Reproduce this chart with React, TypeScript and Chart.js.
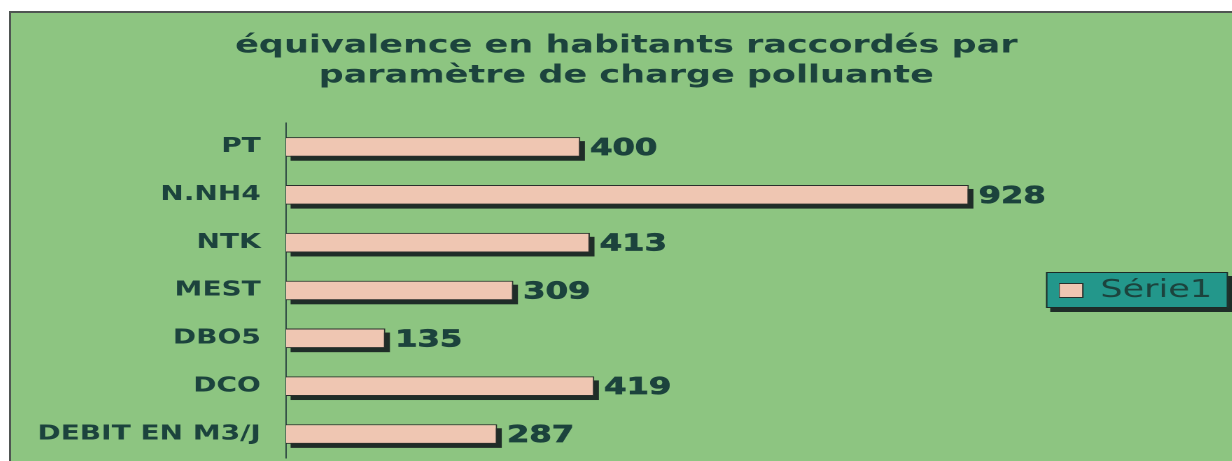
import React, { useEffect, useRef } from 'react';
import { Chart, registerables } from 'chart.js';

Chart.register(...registerables);

// ---- data ----
const categories: string[] = ['PT', 'N.NH4', 'NTK', 'MEST', 'DBO5', 'DCO', 'DEBIT EN M3/J'];
const serie1: number[] = [400, 928, 413, 309, 135, 419, 287];
const seriesLabel = 'Série1';
const titleLines: string[] = ['équivalence en habitants raccordés par', 'paramètre de charge polluante'];
const xMin = 0;
const xMax = 1000;

// ---- style ----
const FONT = '"DejaVu Sans", "Liberation Sans", sans-serif';
const TEXT = '#1c433d';
const GREEN = '#8dc581';
const BAR_FILL = '#efc6b2';
const BAR_EDGE = '#2a2f2c';
const SHADOW = '#1f2d28';
const LEGEND_BG = '#23978b';
const STRETCH = 1.4;
const CANVAS_W = 872;
const CANVAS_H = 448;

const legendPlacer = {
  id: 'legendPlacer',
  afterUpdate(chart: any) {
    const lg = chart.legend;
    if (!lg) return;
    const w = lg.width;
    const h = lg.height;
    lg.left = 748.6;
    lg.top = 265;
    lg.right = lg.left + w;
    lg.bottom = lg.top + h;
  },
  beforeDraw(chart: any) {
    const ctx = chart.ctx;
    const x = 739.3, y = 259, w = 130, h = 36;
    ctx.save();
    ctx.fillStyle = SHADOW;
    ctx.fillRect(x + 3, y + 4, w, h);
    ctx.fillStyle = LEGEND_BG;
    ctx.fillRect(x, y, w, h);
    ctx.strokeStyle = '#1d2a26';
    ctx.lineWidth = 1;
    ctx.strokeRect(x + 0.5, y + 0.5, w - 1, h - 1);
    ctx.restore();
  },
};

const barShadow = {
  id: 'barShadow',
  beforeDatasetsDraw(chart: any) {
    const ctx = chart.ctx;
    const meta = chart.getDatasetMeta(0);
    ctx.save();
    ctx.fillStyle = SHADOW;
    meta.data.forEach((el: any) => {
      const { x, y, base, height } = el.getProps(['x', 'y', 'base', 'height'], true);
      const left = Math.min(x, base);
      const w = Math.abs(x - base);
      ctx.fillRect(left + 3.3, y - height / 2 + 4, w, height);
    });
    ctx.restore();
  },
};

const valueLabels = {
  id: 'valueLabels',
  afterDraw(chart: any) {
    const ctx = chart.ctx;
    const meta = chart.getDatasetMeta(0);
    const values = chart.data.datasets[0].data as number[];
    ctx.save();
    ctx.font = `bold 23px ${FONT}`;
    ctx.fillStyle = TEXT;
    ctx.strokeStyle = TEXT;
    ctx.lineWidth = 0.7;
    ctx.textAlign = 'left';
    ctx.textBaseline = 'middle';
    meta.data.forEach((el: any, i: number) => {
      ctx.fillText(String(values[i]), el.x + 7, el.y + 2);
      ctx.strokeText(String(values[i]), el.x + 7, el.y + 2);
    });
    ctx.restore();
  },
};

export default function App() {
  const ref = useRef<HTMLCanvasElement | null>(null);

  useEffect(() => {
    if (!ref.current) return;
    const chart = new Chart(ref.current, {
      type: 'bar',
      data: {
        labels: categories,
        datasets: [
          {
            label: seriesLabel,
            data: serie1,
            backgroundColor: BAR_FILL,
            borderColor: BAR_EDGE,
            borderWidth: 1,
            barPercentage: 0.41,
            categoryPercentage: 1,
            clip: false as any,
          },
        ],
      },
      options: {
        indexAxis: 'y',
        animation: false,
        responsive: true,
        maintainAspectRatio: false,
        devicePixelRatio: 2,
        layout: { padding: { left: 7, right: 0, top: 0, bottom: 3 } },
        scales: {
          x: { display: false, min: xMin, max: xMax },
          y: {
            grid: { display: false, drawTicks: false },
            border: { display: true, color: '#2f4a44', width: 1 },
            ticks: { color: TEXT, padding: 18, font: { family: FONT, size: 20, weight: 'bold' } },
            afterFit(s: any) {
              s.width = 189.4;
              s.paddingTop = 0;
              s.paddingBottom = 0;
            },
          },
          y2: {
            type: 'category',
            position: 'right',
            grid: { display: false, drawTicks: false },
            border: { display: false },
            ticks: { display: false },
            afterFit(s: any) {
              s.width = 150;
              s.paddingTop = 0;
              s.paddingBottom = 0;
            },
          } as any,
        },
        plugins: {
          title: {
            display: true,
            text: titleLines,
            color: TEXT,
            font: { family: FONT, size: 25, weight: 'bold', lineHeight: 1.2 },
            padding: { top: 18, bottom: 32 },
          },
          legend: {
            display: true,
            position: 'chartArea' as any,
            align: 'start',
            labels: {
              boxWidth: 17,
              boxHeight: 14,
              padding: 0,
              color: TEXT,
              font: { family: FONT, size: 25 },
            },
          },
          tooltip: { enabled: false },
        },
      },
      plugins: [legendPlacer, barShadow, valueLabels],
    });
    return () => chart.destroy();
  }, []);

  return (
    <div style={{ position: 'fixed', left: 0, top: 0, width: 1232, height: 461, background: '#fff', overflow: 'hidden' }}>
      <div
        style={{
          position: 'absolute',
          left: 9,
          top: 11,
          width: 1240,
          height: 470,
          background: GREEN,
          borderTop: '2px solid #4f5552',
          borderLeft: '2px solid #4f5552',
        }}
      />
      <div
        style={{
          position: 'absolute',
          left: 11,
          top: 13,
          width: CANVAS_W,
          height: CANVAS_H,
          transform: `scaleX(${STRETCH})`,
          transformOrigin: '0 0',
        }}
      >
        <canvas ref={ref} />
      </div>
    </div>
  );
}
